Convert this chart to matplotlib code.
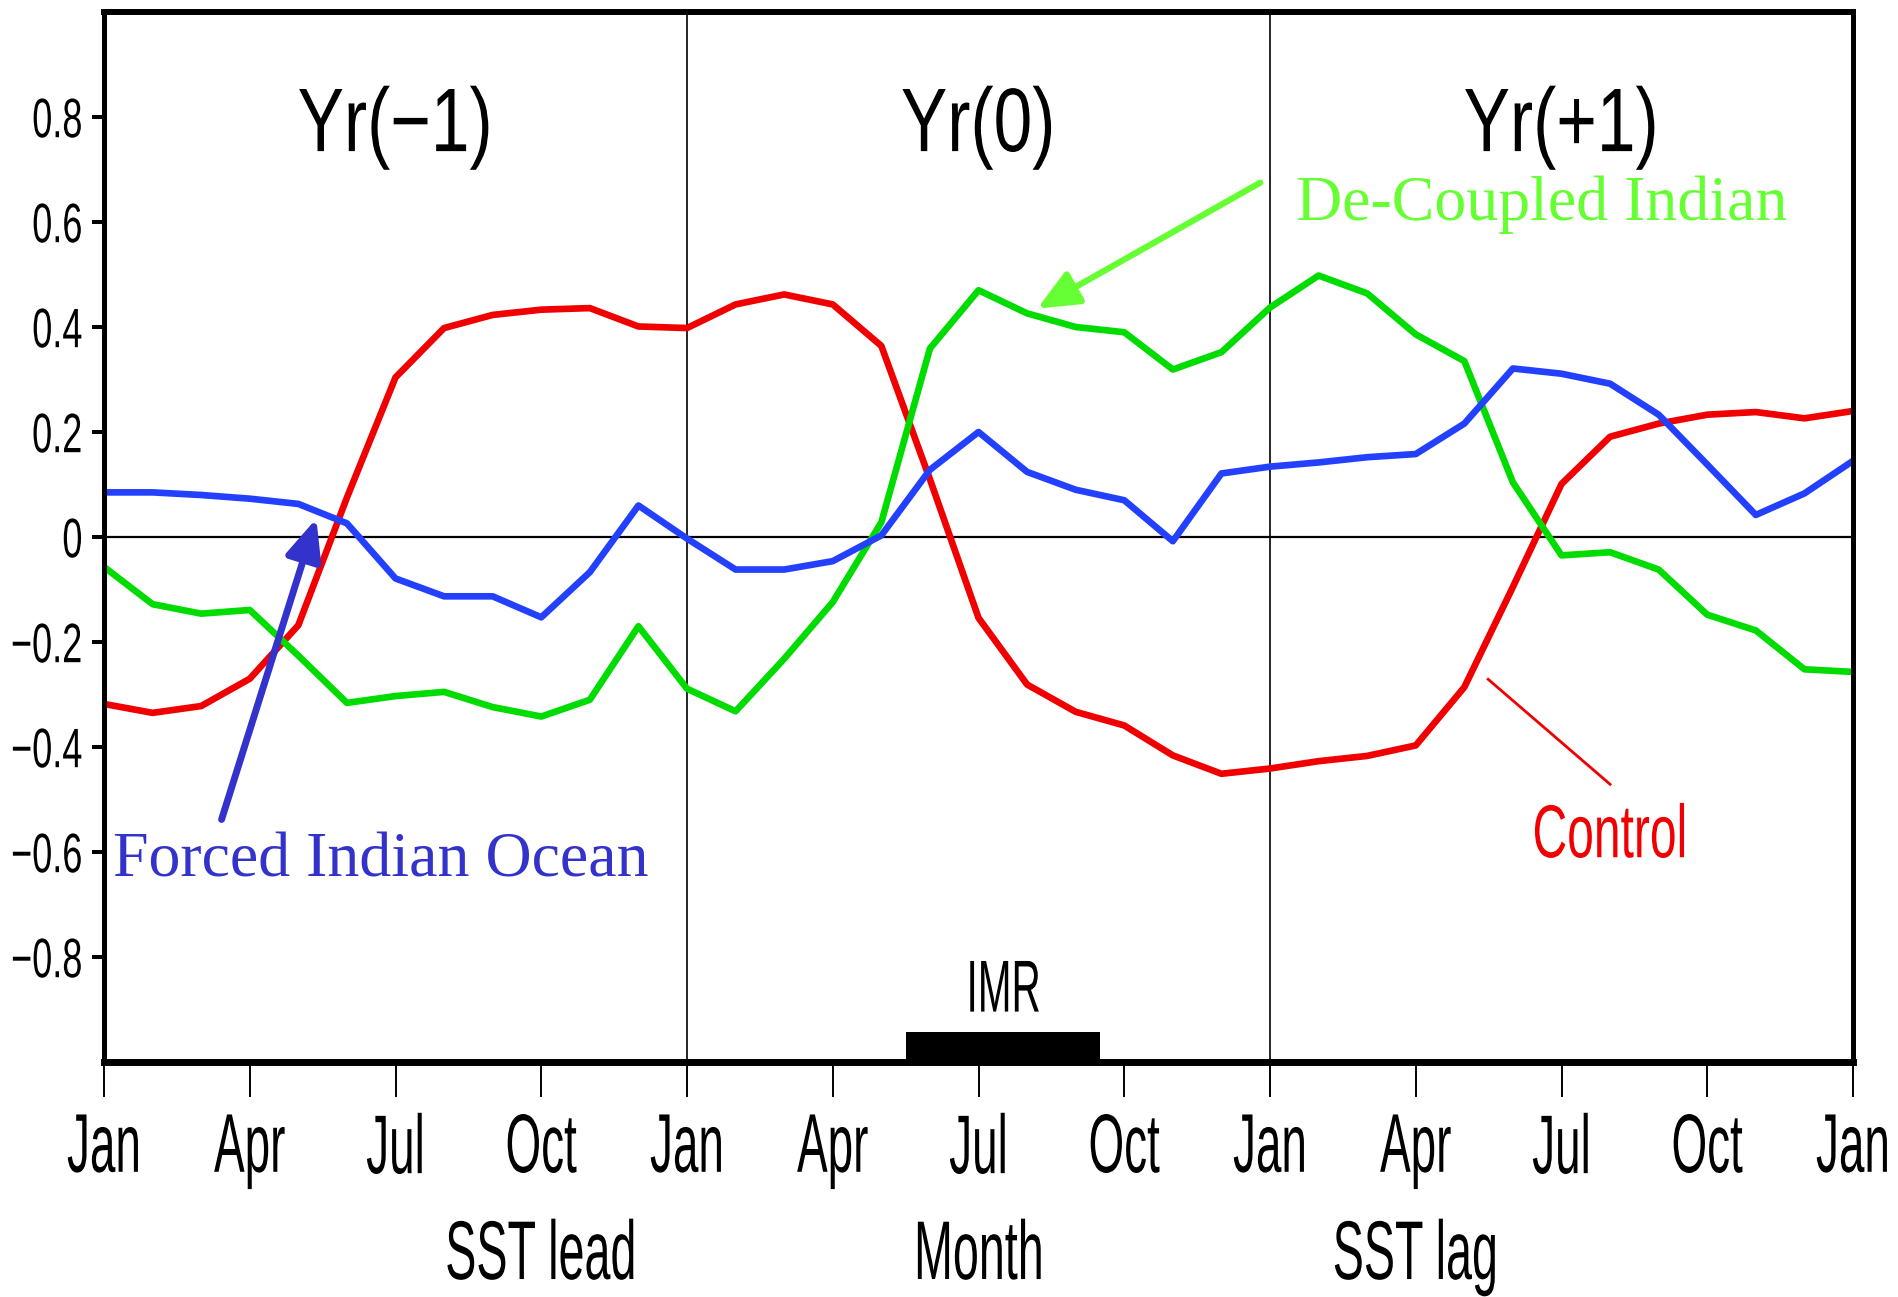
import matplotlib
matplotlib.use("Agg")
import matplotlib.pyplot as plt
from matplotlib.patheffects import AbstractPathEffect
from matplotlib.transforms import Affine2D, Bbox
import numpy as np

# ---------------- data ----------------
months = list(range(37))  # Jan Yr(-1) ... Jan Yr(+2)
control = [-0.318, -0.335, -0.322, -0.270, -0.168, 0.075, 0.304, 0.398, 0.423, 0.433,
           0.436, 0.401, 0.398, 0.443, 0.462, 0.443, 0.364, 0.110, -0.154, -0.281,
           -0.333, -0.359, -0.416, -0.451, -0.441, -0.427, -0.417, -0.397, -0.286,
           -0.095, 0.101, 0.191, 0.216, 0.233, 0.238, 0.226, 0.240]
decoupled = [-0.057, -0.128, -0.146, -0.139, -0.226, -0.316, -0.303, -0.295, -0.324,
             -0.342, -0.310, -0.170, -0.289, -0.332, -0.232, -0.124, 0.028, 0.359,
             0.470, 0.426, 0.400, 0.390, 0.319, 0.352, 0.437, 0.498, 0.464, 0.386,
             0.335, 0.104, -0.035, -0.029, -0.062, -0.148, -0.178, -0.252, -0.257]
forced = [0.085, 0.085, 0.080, 0.073, 0.063, 0.026, -0.079, -0.113, -0.113, -0.153,
          -0.067, 0.060, -0.003, -0.062, -0.062, -0.046, 0.003, 0.128, 0.200, 0.124,
          0.090, 0.070, -0.008, 0.121, 0.134, 0.142, 0.152, 0.158, 0.216, 0.321,
          0.311, 0.292, 0.233, 0.138, 0.042, 0.083, 0.145]

xtick_pos = list(range(0, 37, 3))
xtick_labels = ["Jan", "Apr", "Jul", "Oct"] * 3 + ["Jan"]
ytick_pos = [-0.8, -0.6, -0.4, -0.2, 0.0, 0.2, 0.4, 0.6, 0.8]
ytick_labels = ["\u22120.8", "\u22120.6", "\u22120.4", "\u22120.2", "0", "0.2", "0.4", "0.6", "0.8"]
year_labels = ["Yr(\u22121)", "Yr(0)", "Yr(+1)"]
year_centers = [6, 18, 30]
section_labels = ["SST lead", "Month", "SST lag"]
section_centers = [9, 18, 27]
imr_start, imr_end, imr_top = 16.5, 20.5, -0.942

RED = "#f00000"
GREEN = "#00dc00"
BLUE = "#2440ff"
ANN_BLUE = "#3333cc"
ANN_GREEN = "#66ff33"


def _anchor(lo, hi, mode):
    if mode in ("center",):
        return 0.5 * (lo + hi)
    if mode in ("right", "top"):
        return hi
    return lo


class Squeeze(AbstractPathEffect):
    """Rescale glyphs about an anchor (narrow, tall plotting-font look)."""
    def __init__(self, sx, sy=1.0, xanchor="center", yanchor="bottom"):
        super().__init__()
        self.sx, self.sy = sx, sy
        self.xanchor, self.yanchor = xanchor, yanchor

    def draw_path(self, renderer, gc, tpath, affine, rgbFace=None):
        ext = tpath.get_extents()
        cx = _anchor(ext.x0, ext.x1, self.xanchor)
        cy = _anchor(ext.y0, ext.y1, self.yanchor) if self.sy != 1.0 else 0.0
        t = (Affine2D().translate(-cx, -cy).scale(self.sx, self.sy)
             .translate(cx, cy) + affine)
        renderer.draw_path(gc, tpath, t, rgbFace)


def squeeze_text(t, sx, sy=1.0, xanchor="center", yanchor="bottom"):
    t.set_path_effects([Squeeze(sx, sy, xanchor, yanchor)])
    orig = t.get_window_extent

    def extent(renderer=None, dpi=None):
        bb = orig(renderer, dpi)
        c = _anchor(bb.x0, bb.x1, xanchor)
        d = _anchor(bb.y0, bb.y1, yanchor)
        return Bbox([[c + (bb.x0 - c) * sx, d + (bb.y0 - d) * sy],
                     [c + (bb.x1 - c) * sx, d + (bb.y1 - d) * sy]])

    t.get_window_extent = extent
    return t


SANS = ["Liberation Sans", "DejaVu Sans"]
SERIF = ["Liberation Serif", "DejaVu Serif"]
plt.rcParams["font.family"] = SANS

fig = plt.figure(figsize=(18.99, 12.97), dpi=100)
ax = fig.add_axes([0.05477, 0.18119, 0.92101, 0.80956])
ax.set_xlim(0, 36)
ax.set_ylim(-1, 1)

# reference lines
ax.axhline(0, color="black", lw=1.6, zorder=1)
for xv in (12, 24):
    ax.axvline(xv, color="black", lw=1.2, zorder=1)

# series
ax.plot(months, control, color=RED, lw=4.8, zorder=3, solid_joinstyle="round")
ax.plot(months, decoupled, color=GREEN, lw=4.8, zorder=3, solid_joinstyle="round")
ax.plot(months, forced, color=BLUE, lw=4.8, zorder=4, solid_joinstyle="round")

# IMR bar
ax.fill_between([imr_start, imr_end], [-1, -1], [imr_top, imr_top], color="black",
                lw=0, zorder=2)
squeeze_text(ax.text(18.5, -0.904, "IMR", fontsize=53, ha="center", va="baseline"), 0.55)

# year labels
for xc, lab in zip(year_centers, year_labels):
    squeeze_text(ax.text(xc, 0.735, lab, fontsize=65, ha="center", va="baseline"), 0.77)

# section labels under the axis
for xc, lab in zip(section_centers, section_labels):
    squeeze_text(ax.text(xc, -0.2067, lab, transform=ax.get_xaxis_transform(),
                         fontsize=60, ha="center", va="baseline", clip_on=False), 0.56)

# annotations
ax.annotate("", xy=(4.37, 0.035), xytext=(2.42, -0.538),
            arrowprops=dict(arrowstyle="-|>,head_length=1.25,head_width=0.55",
                            mutation_scale=20, color=ANN_BLUE, lw=5,
                            shrinkA=0, shrinkB=0), zorder=5)
ax.text(0.19, -0.646, "Forced Indian Ocean", fontsize=46, color=ANN_BLUE,
        family=SERIF, ha="left", va="baseline", zorder=5)

ax.annotate("", xy=(19.21, 0.435), xytext=(23.80, 0.675),
            arrowprops=dict(arrowstyle="-|>,head_length=1.25,head_width=0.55",
                            mutation_scale=20, color=ANN_GREEN, lw=4.5,
                            shrinkA=0, shrinkB=0), zorder=5)
ax.text(24.54, 0.604, "De-Coupled Indian", fontsize=46, color=ANN_GREEN,
        family=SERIF, ha="left", va="baseline", zorder=5)

ax.plot([28.49, 31.0], [-0.271, -0.471], color=RED, lw=2, zorder=5)
squeeze_text(ax.text(31.0, -0.61, "Control", fontsize=54, color=RED, ha="center",
                     va="baseline", zorder=5), 0.64)

# ticks (labels drawn small, then stretched tall -> narrow look)
ax.set_xticks(xtick_pos, xtick_labels)
ax.set_yticks(ytick_pos, ytick_labels)
ax.tick_params(axis="x", direction="out", length=25, width=1.4, pad=11, labelsize=33,
               top=False)
ax.tick_params(axis="y", direction="out", length=8.6, width=2.9, pad=7, labelsize=26,
               right=False)
for lab in ax.get_xticklabels():
    squeeze_text(lab, 1.0, 60 / 33, "center", "top")
for lab in ax.get_yticklabels():
    squeeze_text(lab, 1.0, 40 / 26, "right", "center")

# spines
ax.spines["bottom"].set_linewidth(5)
ax.spines["top"].set_linewidth(4.3)
ax.spines["left"].set_linewidth(3.6)
ax.spines["right"].set_linewidth(3.6)
for s in ax.spines.values():
    s.set_zorder(6)

fig.savefig("out.png", dpi=100, facecolor="white")
